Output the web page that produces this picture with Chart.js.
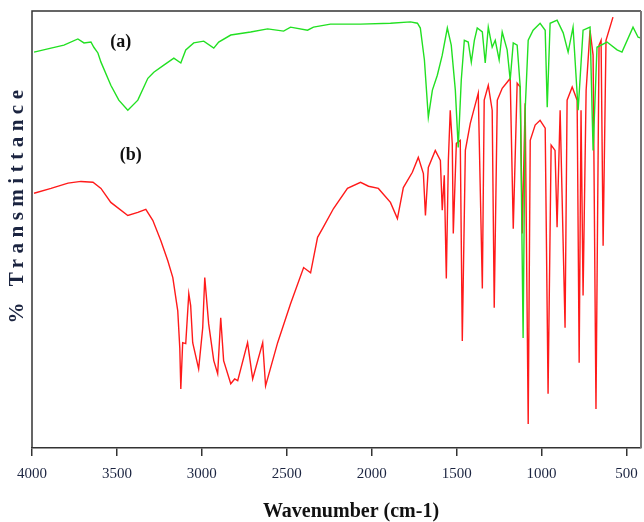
<!DOCTYPE html>
<html>
<head>
<meta charset="utf-8">
<script src="https://cdn.jsdelivr.net/npm/chart.js@4"></script>
<style>
  html, body { margin: 0; padding: 0; background: #fff; }
  #wrap { width: 644px; height: 522px; }
</style>
</head>
<body>
<div id="wrap"><canvas id="ir"></canvas></div>
<script>
// spectrum (a) - green
const wnA = [3988, 3888, 3812, 3730, 3694, 3653, 3636, 3612, 3594, 3536, 3489, 3436, 3377, 3318, 3283, 3224, 3165, 3124, 3095, 3048,
  2989, 2930, 2901, 2830, 2713, 2613, 2519, 2478, 2378, 2343, 2243, 2066, 1890, 1772, 1731, 1714, 1690, 1667, 1643, 1614,
  1585, 1555, 1532, 1508, 1491, 1473, 1455, 1432, 1414, 1396, 1379, 1349, 1332, 1314, 1291, 1273, 1250, 1232, 1203, 1185,
  1167, 1144, 1126, 1109, 1097, 1079, 1050, 1009, 979, 967, 950, 909, 873, 844, 815, 785, 756, 715, 697, 674,
  615, 556, 527, 462, 432, 415];
const tA = [90.6, 91.5, 92.2, 93.6, 92.7, 92.9, 91.7, 90.4, 88.3, 83.0, 79.6, 77.3, 79.6, 84.6, 86.0, 87.6, 89.2, 88.1, 91.1, 92.7,
  93.1, 91.5, 92.9, 94.5, 95.2, 95.9, 95.4, 96.3, 95.6, 96.3, 97.0, 97.0, 97.2, 97.5, 97.2, 96.1, 88.8, 75.7, 81.9, 85.3,
  89.9, 96.1, 92.2, 81.9, 68.8, 84.2, 93.3, 92.9, 88.3, 93.3, 96.1, 95.2, 88.1, 96.3, 91.7, 93.3, 88.8, 95.2, 91.1, 84.2,
  92.7, 92.2, 82.6, 25.2, 77.3, 93.3, 95.6, 97.2, 95.6, 78.0, 97.2, 97.9, 95.0, 90.6, 96.3, 77.3, 95.6, 96.3, 68.1, 91.7,
  92.9, 91.1, 90.6, 96.3, 94.0, 93.8];

// spectrum (b) - red
const wnB = [3988, 3888, 3788, 3712, 3641, 3594, 3536, 3436, 3377, 3330, 3289, 3242, 3201, 3171, 3142, 3130, 3124, 3113, 3095, 3077,
  3066, 3054, 3019, 2995, 2983, 2960, 2930, 2907, 2889, 2872, 2830, 2807, 2789, 2731, 2701, 2642, 2625, 2554, 2478, 2401,
  2360, 2319, 2290, 2225, 2143, 2066, 2019, 1961, 1890, 1849, 1814, 1761, 1726, 1696, 1684, 1667, 1626, 1596, 1585, 1573,
  1561, 1549, 1538, 1526, 1520, 1502, 1479, 1467, 1449, 1420, 1373, 1349, 1338, 1314, 1291, 1279, 1261, 1232, 1203, 1185,
  1167, 1144, 1126, 1114, 1097, 1079, 1067, 1038, 1009, 979, 962, 944, 921, 909, 891, 862, 850, 820, 791, 779,
  768, 756, 738, 715, 697, 680, 662, 650, 638, 621, 580];
const tB = [58.3, 59.4, 60.6, 61.0, 60.8, 59.4, 56.2, 53.2, 53.9, 54.6, 52.1, 47.5, 42.9, 39.0, 31.4, 22.9, 13.5, 24.1, 23.9, 35.3,
  32.6, 24.1, 18.1, 27.5, 39.0, 28.4, 20.0, 17.0, 29.8, 20.0, 14.7, 15.8, 15.4, 24.1, 15.8, 24.1, 14.2, 24.1, 33.0, 41.3,
  40.1, 48.2, 50.2, 54.8, 59.4, 60.8, 59.9, 59.4, 56.2, 52.5, 59.6, 63.1, 66.5, 62.8, 53.2, 64.2, 68.1, 65.8, 54.4, 62.4,
  38.8, 65.8, 77.3, 69.7, 49.1, 69.7, 70.4, 24.5, 68.1, 74.3, 81.2, 36.5, 79.6, 83.0, 77.3, 32.1, 79.6, 82.3, 83.7, 84.6,
  50.2, 83.5, 82.6, 49.1, 78.9, 5.5, 70.4, 73.9, 75.0, 73.2, 12.4, 69.3, 68.1, 50.5, 77.3, 27.5, 79.6, 82.6, 79.6, 19.5,
  77.3, 34.9, 81.9, 95.6, 89.9, 8.9, 92.2, 93.3, 46.3, 93.3, 98.6];

const xTicks = [4000, 3500, 3000, 2500, 2000, 1500, 1000, 500];

const tagText = ['(a)', '(b)'];
const tagWn = [3477, 3418];
const tagT = [92.9, 67.0];

const serif = '"Liberation Serif", "Times New Roman", serif';

const pts = (xs, ys) => xs.map((x, i) => ({ x, y: ys[i] }));

const frame = {
  id: 'frame',
  afterDraw(chart) {
    const { ctx, chartArea: a, scales } = chart;
    ctx.save();
    ctx.strokeStyle = '#333';
    ctx.lineWidth = 1.5;
    ctx.beginPath();
    ctx.moveTo(a.left, a.bottom);
    ctx.lineTo(a.left, a.top);
    ctx.lineTo(a.right, a.top);
    ctx.stroke();
    ctx.strokeStyle = '#777';
    ctx.lineWidth = 2;
    ctx.beginPath();
    ctx.moveTo(a.right, a.top);
    ctx.lineTo(a.right, a.bottom);
    ctx.stroke();

    // (a) / (b) tags
    ctx.fillStyle = '#111';
    ctx.font = 'bold 18px ' + serif;
    ctx.textAlign = 'center';
    ctx.textBaseline = 'middle';
    tagText.forEach((t, i) => {
      ctx.fillText(t, scales.x.getPixelForValue(tagWn[i]), scales.y.getPixelForValue(tagT[i]));
    });

    // x title, a little right of centre as in the original
    ctx.font = 'bold 20px ' + serif;
    ctx.fillText('Wavenumber (cm-1)', 351, 512);

    // y title
    ctx.translate(18, 204);
    ctx.rotate(-Math.PI / 2);
    ctx.font = 'bold 21px ' + serif;
    ctx.fillStyle = '#1b2440';
    ctx.letterSpacing = '5.5px';
    ctx.fillText('% Transmittance', 0, 0);
    ctx.restore();
  }
};

new Chart(document.getElementById('ir'), {
  type: 'line',
  data: {
    datasets: [
      { label: '(a)', data: pts(wnA, tA), borderColor: '#22e022', borderWidth: 1.4 },
      { label: '(b)', data: pts(wnB, tB), borderColor: '#ff1a1a', borderWidth: 1.4 }
    ]
  },
  options: {
    responsive: true,
    maintainAspectRatio: false,
    animation: false,
    layout: { padding: { left: 32, top: 11, right: 3, bottom: 30 } },
    elements: { point: { radius: 0 }, line: { tension: 0 } },
    plugins: { legend: { display: false }, tooltip: { enabled: false } },
    scales: {
      x: {
        type: 'linear',
        reverse: true,
        min: 415,
        max: 4000,
        afterBuildTicks: s => { s.ticks = xTicks.map(v => ({ value: v })); },
        afterFit: s => { s.paddingLeft = 0; s.paddingRight = 0; },
        grid: { display: true, drawOnChartArea: false, drawTicks: true, tickLength: 8, color: '#333', lineWidth: 1.5 },
        border: { display: true, color: '#333', width: 1.5 },
        ticks: {
          padding: 9,
          color: '#1c2541',
          font: { family: serif, size: 15 },
          maxRotation: 0,
          autoSkip: false,
          callback: v => String(v)
        }
      },
      y: {
        display: false,
        min: 0,
        max: 100
      }
    }
  },
  plugins: [frame]
});
</script>
</body>
</html>
